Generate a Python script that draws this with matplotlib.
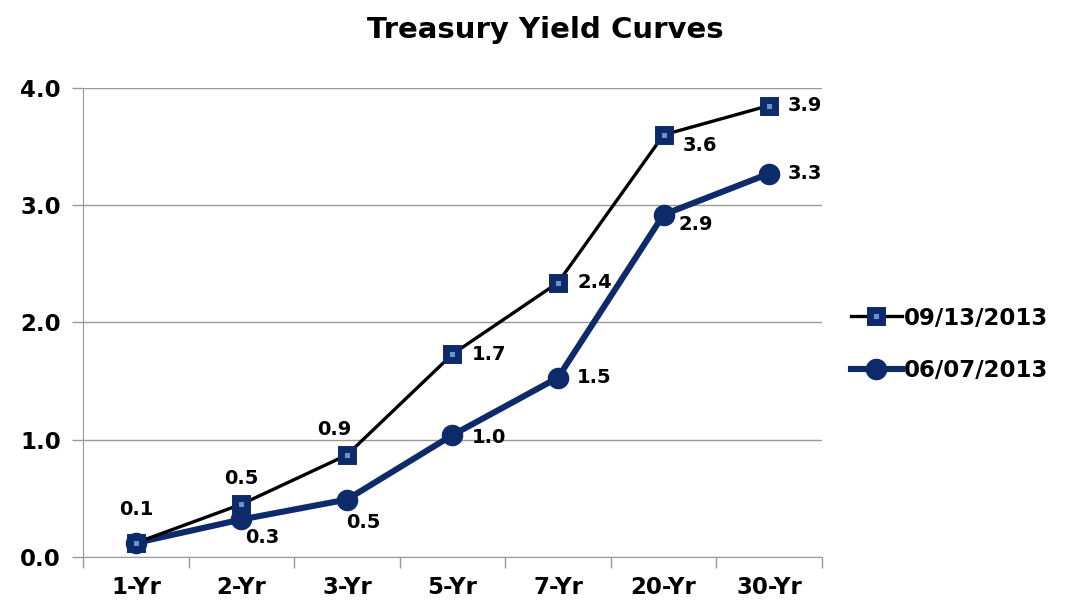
import matplotlib

matplotlib.use('Agg')
import matplotlib.pyplot as plt

plt.rcParams['font.family'] = ['DejaVu Sans']
plt.rcParams['font.weight'] = 'bold'

maturities = ['1-Yr', '2-Yr', '3-Yr', '5-Yr', '7-Yr', '20-Yr', '30-Yr']
sep_2013 = [0.12, 0.45, 0.87, 1.73, 2.34, 3.60, 3.85]
jun_2013 = [0.12, 0.32, 0.49, 1.04, 1.53, 2.92, 3.27]
sep_labels = ['0.1', '0.5', '0.9', '1.7', '2.4', '3.6', '3.9']
jun_labels = ['', '0.3', '0.5', '1.0', '1.5', '2.9', '3.3']

NAVY = '#0D2A6B'
GRID = '#999999'

fig = plt.figure(figsize=(10.73, 6.15), dpi=100)
ax = fig.add_axes([0.0774, 0.0943, 0.6886, 0.7627])

x = range(len(maturities))
ax.plot(x, sep_2013, color='black', lw=2.4, marker='s', ms=8,
        mfc='#6A93C8', mec=NAVY, mew=5, label='09/13/2013', zorder=3)
ax.plot(x, jun_2013, color=NAVY, lw=4.4, marker='o', ms=14.5,
        mfc=NAVY, mec=NAVY, label='06/07/2013', zorder=2)

# label offsets in pixels (dx, dy, ha)
px = 72 / 100
sep_off = [(0, 33, 'center'), (0, 26, 'center'), (-13, 25, 'center'),
           (19, 0, 'left'), (19, 0, 'left'), (19, -11, 'left'), (19, 0, 'left')]
jun_off = [(0, 0, 'left'), (4, -18, 'left'), (-1, -23, 'left'),
           (19, -2, 'left'), (19, 0, 'left'), (15, -10, 'left'), (19, 0, 'left')]

for i, (v, t) in enumerate(zip(sep_2013, sep_labels)):
    dx, dy, ha = sep_off[i]
    ax.annotate(t, (i, v), xytext=(dx * px, dy * px), textcoords='offset points',
                ha=ha, va='center', fontsize=14, fontweight='bold', color='black')
for i, (v, t) in enumerate(zip(jun_2013, jun_labels)):
    if not t:
        continue
    dx, dy, ha = jun_off[i]
    ax.annotate(t, (i, v), xytext=(dx * px, dy * px), textcoords='offset points',
                ha=ha, va='center', fontsize=14, fontweight='bold', color='black')

ax.set_xlim(-0.5, 6.5)
ax.set_ylim(0, 4.0)
ax.set_yticks([0, 1, 2, 3, 4])
ax.set_yticklabels([f'{v:.1f}' for v in [0, 1, 2, 3, 4]])
ax.set_xticks(list(x))
ax.set_xticklabels(maturities)
ax.set_xticks([i + 0.5 for i in range(-1, 7)], minor=True)
ax.tick_params(axis='x', which='major', length=0, pad=14, labelsize=16.5)
ax.tick_params(axis='x', which='minor', length=8, color=GRID, width=1)
ax.tick_params(axis='y', length=8, color=GRID, width=1, labelsize=16.5, pad=8)
for lab in ax.get_xticklabels() + ax.get_yticklabels():
    lab.set_fontweight('bold')

ax.grid(axis='y', color=GRID, lw=1)
ax.set_axisbelow(True)
for s in ['top', 'right']:
    ax.spines[s].set_visible(False)
for s in ['left', 'bottom']:
    ax.spines[s].set_color(GRID)

fig.text(0.508, 0.951, 'Treasury Yield Curves', ha='center', va='center',
         fontsize=21, fontweight='bold')

fig.legend(loc='center left', bbox_to_anchor=(0.774, 0.44), frameon=False,
           prop={'size': 16.5, 'weight': 'bold'}, handlelength=2.2,
           handletextpad=0.1, labelspacing=1.3)

fig.savefig('out.png', dpi=100)
